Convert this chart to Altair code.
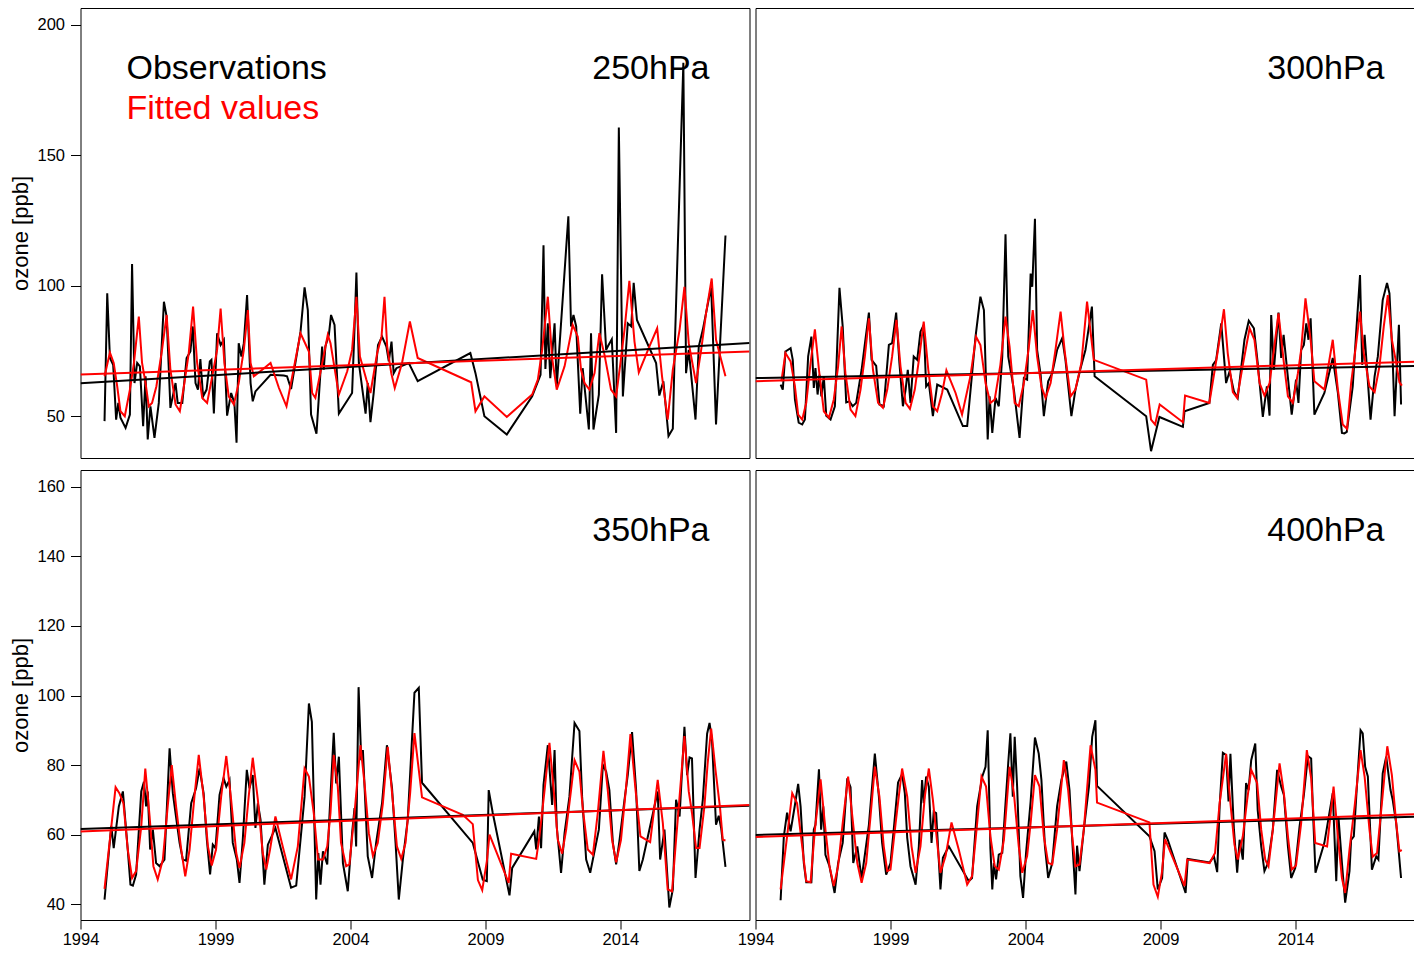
import altair as alt
import pandas as pd

FONT = "Liberation Sans"
YEAR_TICKS = [1994, 1999, 2004, 2009, 2014]
TOP_Y_TICKS = [50, 100, 150, 200]
BOTTOM_Y_TICKS = [40, 60, 80, 100, 120, 140, 160]

# ---------------- 250 hPa ----------------
obs250_t = [1994.89, 1994.99, 1995.09, 1995.21, 1995.32, 1995.40, 1995.48, 1995.67, 1995.83, 1995.91,
            1996.00, 1996.10, 1996.20, 1996.32, 1996.41, 1996.49, 1996.59, 1996.74, 1996.90, 1997.09,
            1997.19, 1997.33, 1997.52, 1997.60, 1997.77, 1997.93, 1998.07, 1998.16, 1998.26, 1998.35,
            1998.44, 1998.54, 1998.67, 1998.79, 1998.85, 1998.94, 1999.06, 1999.19, 1999.31, 1999.43,
            1999.58, 1999.70, 1999.78, 1999.86, 1999.96, 2000.05, 2000.17, 2000.30, 2000.38, 2000.48,
            2001.04, 2001.53, 2001.65, 2001.80, 2002.15, 2002.30, 2002.42, 2002.54, 2002.74, 2002.95,
            2003.01, 2003.07, 2003.20, 2003.28, 2003.41, 2003.57, 2004.06, 2004.15, 2004.22, 2004.31,
            2004.56, 2004.64, 2004.74, 2004.86, 2005.02, 2005.17, 2005.33, 2005.42, 2005.52, 2005.60,
            2005.70, 2006.16, 2006.49, 2008.44, 2008.63, 2008.96, 2009.79, 2010.73, 2011.04, 2011.15,
            2011.22, 2011.31, 2011.40, 2011.47, 2011.56, 2011.64, 2012.07, 2012.17, 2012.26, 2012.36,
            2012.51, 2012.60, 2012.83, 2012.91, 2013.00, 2013.20, 2013.32, 2013.47, 2013.53, 2013.68,
            2013.84, 2013.94, 2014.09, 2014.27, 2014.40, 2014.49, 2014.61, 2015.32, 2015.44, 2015.59,
            2015.78, 2015.94, 2016.02, 2016.33, 2016.43, 2016.53, 2016.78, 2016.90, 2017.05, 2017.36,
            2017.54, 2017.89]
obs250_v = [48.1, 97.1, 72.3, 69.7, 48.7, 55.1, 49.4, 45.5, 50.6, 108.3,
            62.7, 70.4, 69.1, 46.2, 65.3, 41.1, 53.8, 41.7, 55.1, 93.9,
            88.2, 53.2, 62.7, 55.1, 55.1, 72.3, 74.8, 84.4, 62.7, 60.2,
            71.9, 57.6, 60.2, 71.0, 71.6, 51.0, 81.8, 77.3, 79.3, 50.2,
            58.9, 55.1, 39.8, 78.0, 72.9, 78.0, 96.4, 62.7, 55.7, 59.5,
            65.9, 65.6, 65.3, 60.4, 82.4, 99.4, 90.7, 50.6, 43.3, 76.7,
            67.8, 76.7, 81.2, 88.8, 85.0, 51.0, 58.9, 83.7, 105.1, 70.4,
            51.0, 62.7, 47.7, 58.9, 77.3, 80.5, 76.7, 71.0, 78.6, 66.5,
            68.4, 70.4, 63.4, 74.2, 66.5, 50.0, 43.0, 57.6, 65.9, 115.5,
            68.1, 85.6, 64.6, 73.5, 85.6, 61.4, 126.6, 84.4, 88.8, 84.4,
            51.0, 68.4, 44.9, 81.8, 44.9, 58.3, 104.4, 75.4, 76.7, 79.5,
            43.6, 160.7, 57.6, 85.6, 84.4, 101.1, 86.9, 70.4, 57.9, 63.4,
            42.4, 45.2, 79.3, 185.5, 66.5, 75.4, 48.7, 76.7, 83.1, 99.6,
            46.8, 119.3]
fit250_t = [1994.89, 1995.09, 1995.23, 1995.36, 1995.48, 1995.64, 1995.83, 1995.98, 1996.16, 1996.28,
            1996.41, 1996.53, 1996.65, 1996.81, 1997.02, 1997.19, 1997.33, 1997.52, 1997.68, 1997.83,
            1998.01, 1998.17, 1998.32, 1998.51, 1998.69, 1998.88, 1999.06, 1999.19, 1999.33, 1999.49,
            1999.68, 1999.86, 2000.05, 2000.20, 2000.30, 2000.42, 2000.73, 2001.04, 2001.35, 2001.63,
            2002.15, 2002.46, 2002.58, 2002.70, 2003.16, 2003.26, 2003.57, 2003.88, 2004.06, 2004.22,
            2004.35, 2004.59, 2004.74, 2004.99, 2005.15, 2005.26, 2005.36, 2005.51, 2005.64, 2005.91,
            2006.20, 2006.49, 2008.47, 2008.63, 2008.96, 2009.79, 2010.73, 2010.94, 2011.10, 2011.31,
            2011.47, 2011.64, 2011.93, 2012.23, 2012.42, 2012.54, 2012.67, 2012.85, 2013.04, 2013.22,
            2013.41, 2013.65, 2013.84, 2014.00, 2014.15, 2014.33, 2014.52, 2014.68, 2015.07, 2015.36,
            2015.54, 2015.75, 2015.94, 2016.19, 2016.37, 2016.53, 2016.80, 2016.99, 2017.17, 2017.38,
            2017.54, 2017.73, 2017.89]
fit250_v = [65.3, 74.4, 70.4, 61.4, 51.9, 50.0, 60.2, 70.4, 88.2, 70.4,
            62.7, 53.8, 55.1, 61.4, 75.4, 88.8, 67.8, 54.5, 51.9, 61.4,
            74.2, 92.0, 70.4, 57.0, 55.1, 65.3, 75.4, 91.3, 70.4, 57.6,
            54.5, 62.7, 75.4, 90.7, 70.4, 65.3, 67.8, 70.4, 60.8, 53.8,
            81.8, 74.8, 58.9, 57.0, 81.2, 78.0, 58.3, 67.2, 75.4, 95.8,
            72.9, 64.0, 58.9, 74.2, 80.5, 95.8, 76.7, 66.5, 60.8, 70.4,
            86.3, 72.3, 63.0, 51.9, 57.6, 49.7, 58.3, 64.0, 75.4, 95.8,
            72.3, 60.2, 69.1, 85.0, 80.5, 67.8, 62.7, 60.2, 66.5, 81.8,
            73.5, 60.2, 57.6, 70.4, 83.1, 101.9, 78.6, 66.8, 76.7, 83.7,
            65.3, 48.7, 67.8, 83.1, 99.6, 78.0, 62.7, 75.4, 89.4, 102.8,
            79.3, 71.6, 65.3]

# ---------------- 300 hPa ----------------
obs300_t = [1994.93, 1995.01, 1995.11, 1995.30, 1995.38, 1995.46, 1995.60, 1995.73, 1995.83, 1995.95,
            1996.07, 1996.16, 1996.22, 1996.30, 1996.37, 1996.44, 1996.53, 1996.62, 1996.78, 1996.94,
            1997.11, 1997.23, 1997.36, 1997.48, 1997.60, 1997.73, 1997.93, 1998.07, 1998.20, 1998.30,
            1998.47, 1998.59, 1998.75, 1998.94, 1999.06, 1999.21, 1999.33, 1999.46, 1999.56, 1999.64,
            1999.74, 1999.86, 1999.99, 2000.11, 2000.23, 2000.32, 2000.42, 2000.57, 2000.73, 2001.10,
            2001.68, 2001.84, 2002.15, 2002.33, 2002.46, 2002.60, 2002.67, 2002.77, 2002.89, 2003.01,
            2003.14, 2003.26, 2003.36, 2003.57, 2003.78, 2003.94, 2004.06, 2004.19, 2004.25, 2004.35,
            2004.43, 2004.56, 2004.68, 2004.84, 2004.99, 2005.17, 2005.36, 2005.48, 2005.70, 2005.85,
            2006.04, 2006.22, 2006.46, 2006.56, 2008.47, 2008.65, 2008.96, 2009.83, 2009.89, 2010.81,
            2010.94, 2011.06, 2011.25, 2011.43, 2011.56, 2011.72, 2011.86, 2012.11, 2012.27, 2012.46,
            2012.60, 2012.79, 2012.94, 2013.04, 2013.10, 2013.20, 2013.37, 2013.47, 2013.56, 2013.69,
            2013.86, 2014.02, 2014.11, 2014.21, 2014.31, 2014.40, 2014.48, 2014.56, 2014.70, 2015.07,
            2015.38, 2015.57, 2015.72, 2015.81, 2015.90, 2016.12, 2016.25, 2016.39, 2016.47, 2016.56,
            2016.78, 2016.93, 2017.05, 2017.23, 2017.39, 2017.48, 2017.60, 2017.67, 2017.83, 2017.91]
obs300_v = [62.1, 60.2, 74.8, 76.1, 71.6, 56.4, 47.5, 46.8, 48.7, 72.9,
            80.5, 60.8, 68.4, 58.3, 65.9, 57.6, 65.3, 50.2, 48.7, 53.8,
            99.2, 84.4, 55.3, 55.7, 53.8, 55.1, 67.8, 79.3, 89.7, 71.6,
            69.3, 54.5, 53.8, 77.3, 78.0, 89.7, 70.4, 53.8, 60.2, 67.8,
            55.1, 72.9, 71.6, 82.4, 85.0, 61.4, 62.7, 50.0, 62.1, 60.2,
            46.2, 46.2, 80.5, 95.8, 90.7, 41.1, 57.6, 43.6, 57.0, 53.8,
            72.9, 119.7, 72.9, 60.2, 41.7, 64.6, 64.0, 104.7, 99.6, 125.7,
            75.4, 65.9, 50.0, 63.4, 66.5, 75.4, 79.9, 71.6, 50.0, 60.2,
            68.4, 75.4, 92.0, 65.3, 50.0, 36.6, 49.7, 45.9, 51.9, 55.1,
            69.7, 71.4, 85.6, 62.7, 67.2, 59.5, 57.0, 79.3, 86.6, 83.7,
            70.4, 49.7, 61.4, 50.2, 88.8, 67.8, 89.7, 72.3, 81.2, 67.8,
            50.6, 64.0, 55.1, 75.4, 77.3, 85.6, 79.3, 87.5, 50.6, 58.9,
            72.3, 58.9, 43.6, 43.4, 44.0, 61.4, 82.4, 104.1, 69.7, 81.2,
            48.7, 65.3, 72.9, 94.5, 101.1, 97.1, 71.6, 50.0, 85.0, 54.5]
fit300_t = [1994.96, 1995.11, 1995.30, 1995.46, 1995.58, 1995.73, 1995.88, 1996.04, 1996.20, 1996.35,
            1996.53, 1996.72, 1996.90, 1997.06, 1997.19, 1997.33, 1997.52, 1997.70, 1997.89, 1998.05,
            1998.20, 1998.35, 1998.54, 1998.72, 1998.88, 1999.06, 1999.22, 1999.37, 1999.56, 1999.72,
            1999.90, 2000.07, 2000.23, 2000.40, 2000.57, 2000.73, 2000.91, 2001.07, 2001.41, 2001.65,
            2001.96, 2002.17, 2002.33, 2002.52, 2002.70, 2002.86, 2003.07, 2003.26, 2003.41, 2003.60,
            2003.75, 2003.94, 2004.12, 2004.27, 2004.43, 2004.59, 2004.74, 2004.93, 2005.11, 2005.30,
            2005.46, 2005.67, 2005.85, 2006.07, 2006.28, 2006.53, 2008.47, 2008.65, 2008.80, 2008.97,
            2009.83, 2009.91, 2010.81, 2011.12, 2011.35, 2011.49, 2011.68, 2011.84, 2012.05, 2012.30,
            2012.48, 2012.67, 2012.85, 2013.04, 2013.20, 2013.37, 2013.57, 2013.72, 2013.90, 2014.09,
            2014.21, 2014.37, 2014.56, 2014.70, 2015.07, 2015.38, 2015.57, 2015.75, 2015.91, 2016.06,
            2016.25, 2016.39, 2016.53, 2016.74, 2016.93, 2017.11, 2017.27, 2017.42, 2017.57, 2017.73,
            2017.85, 2017.94]
fit300_v = [63.4, 74.2, 71.0, 61.4, 50.6, 48.7, 55.1, 70.4, 83.3, 67.8,
            51.9, 49.4, 56.4, 69.1, 84.4, 66.5, 52.5, 50.0, 60.2, 72.9,
            87.5, 67.8, 55.1, 53.2, 60.2, 72.9, 86.9, 69.1, 55.1, 52.8,
            60.2, 72.9, 86.3, 67.8, 53.8, 51.9, 58.9, 67.6, 58.9, 50.6,
            65.3, 80.5, 77.3, 62.7, 55.1, 56.4, 69.7, 88.2, 76.7, 55.1,
            53.8, 62.7, 76.1, 90.7, 72.9, 61.4, 57.0, 62.7, 75.4, 90.1,
            74.2, 57.6, 60.2, 70.4, 93.9, 71.6, 64.0, 48.7, 46.8, 54.5,
            47.7, 57.9, 55.1, 74.8, 91.0, 74.2, 59.2, 57.0, 69.7, 83.7,
            79.3, 62.7, 57.9, 62.7, 75.4, 89.4, 70.4, 57.6, 55.1, 66.5,
            75.4, 95.2, 79.3, 63.4, 60.2, 79.3, 60.2, 46.8, 45.2, 62.7,
            78.0, 90.1, 74.2, 61.4, 59.2, 69.1, 84.4, 96.4, 79.3, 70.4,
            63.0, 61.7]

# ---------------- 350 hPa ----------------
obs350_t = [1994.89, 1995.14, 1995.23, 1995.42, 1995.57, 1995.75, 1995.85, 1995.94, 1996.06, 1996.25,
            1996.35, 1996.43, 1996.49, 1996.58, 1996.68, 1996.80, 1996.93, 1997.11, 1997.30, 1997.42,
            1997.57, 1997.67, 1997.79, 1997.91, 1998.10, 1998.28, 1998.41, 1998.56, 1998.68, 1998.80,
            1998.90, 1999.00, 1999.15, 1999.30, 1999.40, 1999.52, 1999.64, 1999.79, 1999.89, 2000.01,
            2000.16, 2000.26, 2000.38, 2000.48, 2000.57, 2000.67, 2000.81, 2000.94, 2001.22, 2001.80,
            2001.99, 2002.30, 2002.46, 2002.57, 2002.73, 2002.81, 2002.89, 2002.98, 2003.14, 2003.22,
            2003.38, 2003.47, 2003.57, 2003.72, 2003.90, 2004.06, 2004.15, 2004.21, 2004.30, 2004.40,
            2004.46, 2004.64, 2004.80, 2004.95, 2005.17, 2005.35, 2005.54, 2005.67, 2005.79, 2005.94,
            2006.12, 2006.37, 2006.53, 2006.65, 2008.53, 2008.90, 2009.05, 2009.12, 2009.27, 2009.89,
            2009.99, 2010.81, 2010.88, 2010.98, 2011.06, 2011.15, 2011.31, 2011.47, 2011.56, 2011.64,
            2011.80, 2011.93, 2012.11, 2012.30, 2012.48, 2012.58, 2012.73, 2012.88, 2013.00, 2013.20,
            2013.35, 2013.47, 2013.59, 2013.72, 2013.84, 2013.96, 2014.15, 2014.27, 2014.43, 2014.58,
            2014.70, 2014.83, 2015.38, 2015.47, 2015.63, 2015.81, 2015.94, 2016.06, 2016.19, 2016.37,
            2016.47, 2016.56, 2016.65, 2016.78, 2016.93, 2017.05, 2017.21, 2017.30, 2017.39, 2017.54,
            2017.64, 2017.73, 2017.89]
obs350_v = [41.3, 62.5, 56.1, 68.1, 72.4, 55.7, 45.6, 45.3, 48.5, 72.4,
            75.2, 68.1, 72.4, 55.7, 61.4, 51.8, 50.9, 52.8, 84.8, 71.9,
            63.3, 57.6, 52.8, 52.5, 69.0, 73.3, 79.0, 71.9, 58.5, 48.5,
            57.1, 56.1, 71.4, 76.2, 73.8, 75.7, 57.6, 52.8, 46.1, 58.5,
            78.6, 73.3, 77.1, 61.9, 69.0, 64.2, 45.6, 57.1, 61.9, 44.7,
            45.3, 70.9, 97.7, 92.4, 41.3, 54.7, 45.6, 55.2, 51.4, 65.2,
            89.3, 74.7, 82.4, 51.8, 43.7, 60.4, 67.6, 56.6, 102.4, 81.4,
            84.3, 53.7, 47.5, 57.6, 69.0, 85.7, 73.3, 57.6, 41.3, 52.8,
            64.2, 100.8, 102.2, 74.9, 57.6, 47.0, 46.6, 72.8, 66.2, 42.5,
            50.4, 60.9, 55.7, 65.2, 56.1, 74.3, 85.7, 68.5, 84.3, 62.3,
            49.0, 60.4, 70.9, 92.1, 89.8, 70.9, 52.8, 49.0, 53.7, 61.4,
            80.0, 78.1, 72.8, 57.6, 51.4, 58.0, 70.0, 77.1, 89.5, 72.8,
            49.5, 52.8, 72.4, 52.8, 61.4, 39.0, 44.2, 70.0, 65.2, 91.0,
            77.1, 82.2, 81.9, 47.5, 61.4, 70.0, 89.0, 92.1, 87.2, 62.8,
            65.4, 61.9, 50.7]
fit350_t = [1994.89, 1995.30, 1995.44, 1995.59, 1995.75, 1995.91, 1996.06, 1996.25, 1996.40, 1996.56,
            1996.70, 1996.86, 1997.05, 1997.23, 1997.38, 1997.54, 1997.73, 1997.88, 1998.04, 1998.22,
            1998.38, 1998.56, 1998.72, 1998.86, 1999.02, 1999.21, 1999.40, 1999.58, 1999.77, 1999.89,
            2000.07, 2000.23, 2000.38, 2000.57, 2000.75, 2000.88, 2001.02, 2001.22, 2001.49, 2001.80,
            2002.05, 2002.30, 2002.46, 2002.64, 2002.80, 2002.98, 2003.14, 2003.26, 2003.38, 2003.53,
            2003.65, 2003.84, 2003.96, 2004.15, 2004.37, 2004.52, 2004.68, 2004.83, 2005.01, 2005.20,
            2005.38, 2005.54, 2005.72, 2005.88, 2006.04, 2006.21, 2006.37, 2006.65, 2008.16, 2008.53,
            2008.72, 2008.88, 2009.05, 2009.15, 2009.86, 2009.95, 2010.88, 2011.00, 2011.19, 2011.37,
            2011.56, 2011.68, 2011.84, 2011.99, 2012.17, 2012.30, 2012.48, 2012.61, 2012.79, 2012.98,
            2013.16, 2013.37, 2013.53, 2013.69, 2013.84, 2014.02, 2014.21, 2014.37, 2014.56, 2014.74,
            2015.10, 2015.38, 2015.57, 2015.75, 2015.91, 2016.04, 2016.21, 2016.37, 2016.53, 2016.65,
            2016.80, 2016.93, 2017.11, 2017.23, 2017.36, 2017.52, 2017.69, 2017.79, 2017.89]
fit350_v = [44.4, 73.6, 71.9, 69.0, 55.7, 47.5, 49.5, 62.3, 79.0, 65.2,
            50.9, 47.1, 52.8, 68.1, 80.0, 68.1, 55.7, 48.0, 55.7, 70.9,
            82.9, 70.9, 56.6, 51.1, 55.7, 70.9, 82.6, 70.0, 54.7, 50.4,
            57.6, 70.9, 82.1, 70.0, 54.7, 49.9, 55.7, 65.2, 56.6, 47.1,
            56.6, 79.0, 76.7, 66.2, 52.8, 52.8, 56.6, 66.2, 82.9, 73.8,
            57.6, 50.9, 51.4, 66.2, 85.7, 74.7, 60.4, 53.9, 57.6, 69.0,
            85.2, 71.9, 56.6, 53.0, 57.6, 71.9, 89.2, 70.7, 65.7, 63.0,
            46.9, 44.0, 52.3, 60.0, 46.1, 54.5, 53.0, 59.5, 72.8, 86.4,
            70.0, 58.5, 54.5, 61.4, 72.8, 81.4, 78.1, 67.1, 55.7, 54.2,
            66.2, 84.1, 72.8, 58.5, 52.0, 58.5, 73.8, 88.9, 72.8, 59.5,
            57.8, 75.7, 63.3, 44.2, 43.7, 56.6, 72.8, 88.3, 72.4, 66.2,
            56.1, 56.1, 68.1, 80.5, 90.5, 78.6, 67.6, 58.5, 58.3]

# ---------------- 400 hPa ----------------
obs400_t = [1994.93, 1995.05, 1995.17, 1995.30, 1995.46, 1995.58, 1995.67, 1995.79, 1995.88, 1996.07,
            1996.16, 1996.22, 1996.35, 1996.43, 1996.51, 1996.59, 1996.74, 1996.93, 1997.06, 1997.23,
            1997.40, 1997.52, 1997.62, 1997.77, 1997.93, 1998.20, 1998.42, 1998.57, 1998.69, 1998.84,
            1999.00, 1999.12, 1999.28, 1999.43, 1999.53, 1999.62, 1999.74, 1999.93, 2000.05, 2000.17,
            2000.23, 2000.32, 2000.42, 2000.52, 2000.60, 2000.69, 2000.85, 2000.94, 2001.16, 2001.90,
            2002.02, 2002.21, 2002.40, 2002.52, 2002.60, 2002.70, 2002.77, 2002.83, 2002.91, 2003.01,
            2003.14, 2003.26, 2003.36, 2003.44, 2003.53, 2003.60, 2003.69, 2003.81, 2003.91, 2004.02,
            2004.19, 2004.35, 2004.49, 2004.59, 2004.72, 2004.84, 2004.99, 2005.17, 2005.33, 2005.51,
            2005.63, 2005.73, 2005.85, 2005.91, 2006.00, 2006.16, 2006.35, 2006.47, 2006.59, 2006.65,
            2008.59, 2008.78, 2008.90, 2009.06, 2009.15, 2009.27, 2009.93, 2010.01, 2010.82, 2010.98,
            2011.10, 2011.19, 2011.31, 2011.43, 2011.52, 2011.59, 2011.72, 2011.84, 2011.93, 2012.05,
            2012.17, 2012.26, 2012.36, 2012.51, 2012.60, 2012.73, 2012.85, 2012.98, 2013.16, 2013.32,
            2013.47, 2013.57, 2013.72, 2013.84, 2013.99, 2014.15, 2014.31, 2014.46, 2014.58, 2014.64,
            2014.74, 2015.07, 2015.38, 2015.51, 2015.59, 2015.72, 2015.84, 2016.00, 2016.06, 2016.16,
            2016.25, 2016.41, 2016.49, 2016.58, 2016.68, 2016.83, 2016.99, 2017.07, 2017.23, 2017.36,
            2017.52, 2017.60, 2017.73, 2017.91]
obs400_v = [41.1, 59.5, 66.3, 60.9, 68.5, 74.6, 68.1, 51.8, 46.3, 46.3,
            61.4, 62.8, 78.8, 61.4, 68.1, 54.2, 50.9, 43.2, 51.8, 57.6,
            76.2, 73.6, 51.8, 56.6, 47.3, 62.8, 83.3, 70.9, 57.6, 48.5,
            51.8, 61.4, 75.0, 77.4, 71.9, 59.0, 50.9, 45.6, 56.6, 75.7,
            69.0, 76.7, 73.8, 57.6, 66.6, 66.2, 44.2, 53.3, 56.6, 46.6,
            47.5, 68.1, 76.7, 79.5, 90.0, 56.1, 44.2, 51.8, 47.1, 54.2,
            54.7, 69.0, 80.5, 89.1, 70.9, 88.1, 73.8, 48.0, 41.8, 54.7,
            69.5, 87.9, 83.3, 75.7, 56.6, 47.5, 51.8, 68.1, 75.7, 81.0,
            72.8, 58.5, 42.8, 56.8, 49.5, 61.4, 73.8, 88.1, 92.9, 74.0,
            59.5, 55.2, 44.2, 47.5, 60.6, 58.5, 43.2, 53.0, 52.0, 53.7,
            49.2, 68.1, 83.5, 82.9, 69.5, 83.2, 61.4, 49.0, 58.5, 52.8,
            74.8, 72.8, 81.4, 86.2, 67.1, 56.6, 49.5, 51.8, 61.4, 78.6,
            73.8, 71.4, 56.6, 47.5, 50.4, 62.3, 71.4, 82.6, 81.9, 68.1,
            49.0, 57.6, 71.9, 46.6, 65.2, 51.8, 40.4, 49.5, 58.5, 59.5,
            70.9, 90.0, 89.1, 79.5, 76.7, 49.9, 53.7, 52.8, 77.6, 82.4,
            72.8, 70.0, 63.3, 47.5]
fit400_t = [1994.93, 1995.17, 1995.36, 1995.54, 1995.73, 1995.88, 1996.04, 1996.20, 1996.41, 1996.59,
            1996.74, 1996.90, 1997.06, 1997.23, 1997.43, 1997.60, 1997.77, 1997.93, 1998.10, 1998.26,
            1998.42, 1998.59, 1998.75, 1998.88, 1999.00, 1999.19, 1999.43, 1999.62, 1999.78, 1999.93,
            2000.11, 2000.27, 2000.42, 2000.57, 2000.73, 2000.85, 2001.04, 2001.26, 2001.53, 2001.84,
            2002.02, 2002.21, 2002.37, 2002.54, 2002.70, 2002.86, 2003.01, 2003.20, 2003.41, 2003.57,
            2003.75, 2003.88, 2004.06, 2004.19, 2004.35, 2004.52, 2004.68, 2004.84, 2004.99, 2005.17,
            2005.42, 2005.58, 2005.73, 2005.85, 2006.00, 2006.16, 2006.41, 2006.59, 2006.65, 2008.59,
            2008.74, 2008.90, 2009.05, 2009.17, 2009.89, 2009.99, 2010.82, 2011.02, 2011.19, 2011.43,
            2011.59, 2011.74, 2011.86, 2012.05, 2012.21, 2012.36, 2012.58, 2012.73, 2012.88, 2013.00,
            2013.16, 2013.41, 2013.57, 2013.72, 2013.86, 2014.02, 2014.21, 2014.42, 2014.58, 2014.73,
            2015.17, 2015.41, 2015.57, 2015.72, 2015.84, 2016.00, 2016.19, 2016.41, 2016.56, 2016.74,
            2016.86, 2017.02, 2017.20, 2017.40, 2017.57, 2017.73, 2017.85, 2017.94]
fit400_v = [44.2, 59.5, 71.9, 69.0, 56.6, 46.6, 46.3, 61.4, 75.9, 61.4,
            50.9, 45.2, 50.9, 63.3, 76.7, 64.2, 51.8, 46.1, 51.8, 65.2,
            79.5, 70.9, 56.6, 49.5, 49.9, 63.3, 79.0, 70.9, 56.6, 49.0,
            56.6, 70.9, 79.0, 70.0, 57.6, 49.0, 53.8, 63.5, 55.6, 45.6,
            48.0, 63.3, 76.7, 73.8, 59.5, 50.9, 49.9, 58.5, 79.5, 71.9,
            56.6, 49.0, 53.8, 63.3, 77.1, 73.8, 59.5, 51.8, 51.4, 61.4,
            81.4, 72.8, 59.5, 50.9, 51.4, 61.4, 85.7, 78.6, 69.2, 63.5,
            45.6, 42.1, 49.0, 58.7, 45.2, 52.8, 51.8, 54.7, 69.0, 83.2,
            69.0, 57.1, 52.8, 59.5, 70.0, 78.6, 74.8, 61.4, 52.8, 50.9,
            61.4, 80.5, 71.9, 59.5, 49.9, 51.1, 63.3, 84.3, 76.2, 57.6,
            56.6, 73.8, 59.5, 47.5, 43.2, 55.7, 68.1, 84.3, 76.7, 61.4,
            53.6, 54.7, 69.0, 85.4, 77.1, 63.3, 55.2, 55.5]

# ---------------- linear trends (end points) ----------------
trend_t_left = [1994.0, 2018.78]
trend_t_right = [1994.0, 2018.67]
trend250_obs = [62.6, 78.1]
trend250_fit = [66.0, 74.8]
trend300_obs = [64.6, 69.3]
trend300_fit = [63.4, 71.0]
trend350_obs = [61.6, 68.3]
trend350_fit = [60.9, 68.5]
trend400_obs = [59.9, 65.2]
trend400_fit = [59.3, 65.9]

TOP_Y_DOMAIN = [33.97, 206.49]
BOTTOM_Y_DOMAIN = [35.42, 164.87]
LEFT_X_DOMAIN = [1994.0, 2018.78]
RIGHT_X_DOMAIN = [1994.0, 2018.667]
W_LEFT, W_RIGHT, H = 669, 666, 450


def make_panel(label, obs_t, obs_v, fit_t, fit_v, tr_t, tr_obs, tr_fit,
               ydomain, yticks, xdomain, width, show_y, show_x, legend=False):
    obs = pd.DataFrame({"year": obs_t, "ozone": obs_v})
    fit = pd.DataFrame({"year": fit_t, "ozone": fit_v})
    tro = pd.DataFrame({"year": tr_t, "ozone": tr_obs})
    trf = pd.DataFrame({"year": tr_t, "ozone": tr_fit})
    xs = alt.Scale(domain=xdomain, nice=False, zero=False)
    ys = alt.Scale(domain=ydomain, nice=False, zero=False)
    if show_x:
        xa = alt.Axis(values=YEAR_TICKS, format="d", title=None, labelFlush=False,
                      labelOverlap=False, domain=False, grid=False, tickSize=9,
                      labelPadding=2)
    else:
        xa = None
    if show_y:
        ya = alt.Axis(values=yticks, title="ozone [ppb]", labelFlush=False,
                      labelOverlap=False, domain=False, grid=False, tickSize=10,
                      labelPadding=6, titlePadding=4)
    else:
        ya = None
    X = alt.X("year:Q", scale=xs, axis=xa)
    Y = alt.Y("ozone:Q", scale=ys, axis=ya)

    def line(df, color):
        return alt.Chart(df).mark_line(color=color, strokeWidth=2, clip=True).encode(x=X, y=Y)

    layers = [line(obs, "#000000"), line(fit, "#FF0000"),
              line(tro, "#000000"), line(trf, "#FF0000")]
    lab = alt.Chart(pd.DataFrame({"t": [label]})).mark_text(
        align="right", baseline="alphabetic", fontSize=34, font=FONT, color="#000000"
    ).encode(x=alt.value(629), y=alt.value(71), text="t:N")
    layers.append(lab)
    if legend:
        for txt, col, yy in [("Observations", "#000000", 71), ("Fitted values", "#FF0000", 111)]:
            layers.append(alt.Chart(pd.DataFrame({"t": [txt]})).mark_text(
                align="left", baseline="alphabetic", fontSize=34, font=FONT, color=col
            ).encode(x=alt.value(46), y=alt.value(yy), text="t:N"))
    return alt.layer(*layers).properties(width=width, height=H)


p250 = make_panel("250hPa", obs250_t, obs250_v, fit250_t, fit250_v, trend_t_left, trend250_obs,
                  trend250_fit, TOP_Y_DOMAIN, TOP_Y_TICKS, LEFT_X_DOMAIN, W_LEFT, True, False, legend=True)
p300 = make_panel("300hPa", obs300_t, obs300_v, fit300_t, fit300_v, trend_t_right, trend300_obs,
                  trend300_fit, TOP_Y_DOMAIN, TOP_Y_TICKS, RIGHT_X_DOMAIN, W_RIGHT, False, False)
p350 = make_panel("350hPa", obs350_t, obs350_v, fit350_t, fit350_v, trend_t_left, trend350_obs,
                  trend350_fit, BOTTOM_Y_DOMAIN, BOTTOM_Y_TICKS, LEFT_X_DOMAIN, W_LEFT, True, True)
p400 = make_panel("400hPa", obs400_t, obs400_v, fit400_t, fit400_v, trend_t_right, trend400_obs,
                  trend400_fit, BOTTOM_Y_DOMAIN, BOTTOM_Y_TICKS, RIGHT_X_DOMAIN, W_RIGHT, False, True)

top = alt.hconcat(p250, p300, spacing=6, bounds="flush")
bottom = alt.hconcat(p350, p400, spacing=6, bounds="flush")

chart = alt.vconcat(top, bottom, spacing=10).properties(
    padding={"left": 0.5, "top": -1, "right": -9, "bottom": 0},
    background="white",
).configure_view(
    stroke="#000000", strokeWidth=1
).configure_axis(
    labelFont=FONT, labelFontSize=16.5, labelColor="#000000",
    tickColor="#000000", tickWidth=1,
    titleFont=FONT, titleFontSize=22, titleFontWeight="normal", titleColor="#000000",
    grid=False,
)

chart.save("out.html", embed_options={"renderer": "svg", "actions": False})
